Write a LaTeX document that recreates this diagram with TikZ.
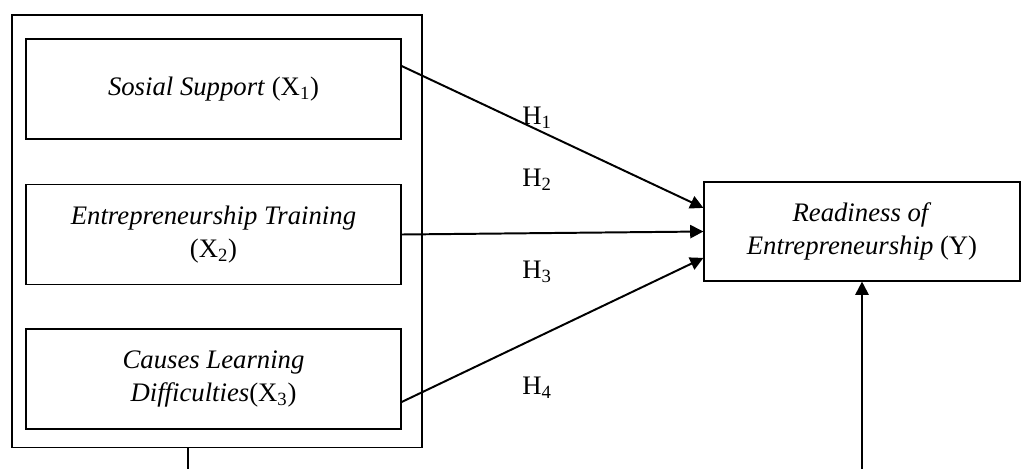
\documentclass[tikz,border=0pt]{standalone}
\usepackage{fontspec}
\setmainfont{Liberation Serif}[ItalicFont={Liberation Serif Italic}]
\usetikzlibrary{arrows.meta}

\begin{document}
\begin{tikzpicture}[x=0.025cm, y=-0.025cm,
    every node/.style={font=\fontsize{19}{24}\selectfont},
    varbox/.style={draw, line width=0.8pt, minimum width=9.375cm, minimum height=2.5cm, align=center, inner sep=0pt},
    arr/.style={-{Triangle[length=0.33cm, width=0.33cm]}, line width=1.4pt}]
    \useasboundingbox (0,0) rectangle (1024,468);
    \node[draw, line width=0.8pt, minimum width=10.25cm, minimum height=10.8cm, inner sep=0pt] (outer) at (217, 231){};
    \node[varbox] (sup) at (213.5, 89){\textit{Sosial Support} (X\textsubscript{1})};
    \node[varbox] (train) at (213.5, 234.5){\textit{Entrepreneurship Training}\\(X\textsubscript{2})};
    \node[varbox] (diff) at (213.5, 379){\textit{Causes Learning}\\\textit{Difficulties}(X\textsubscript{3})};
    \node[varbox, minimum width=7.9cm, minimum height=2.475cm] (ready) at (862, 231.5){\textit{Readiness of}\\\textit{Entrepreneurship} (Y)};
    \node (h1) at (537, 118){H\textsubscript{1}};
    \node (h2) at (537, 180){H\textsubscript{2}};
    \node (h3) at (537, 272){H\textsubscript{3}};
    \node (h4) at (537, 388){H\textsubscript{4}};
    \coordinate (low1) at (188, 470);
    \coordinate (low2) at (862, 470);
    \draw[arr] ([yshift=0.575cm]sup.east)--([yshift=0.59cm]ready.west);
    \draw[arr] (train.east)--(ready.west);
    \draw[arr] ([yshift=-0.575cm]diff.east)--([yshift=-0.66cm]ready.west);
    \draw[line width=1.4pt] ([xshift=-0.725cm]outer.south)--(low1);
    \draw[arr] (low2)--(ready.south);
  \end{tikzpicture}
\end{document}
